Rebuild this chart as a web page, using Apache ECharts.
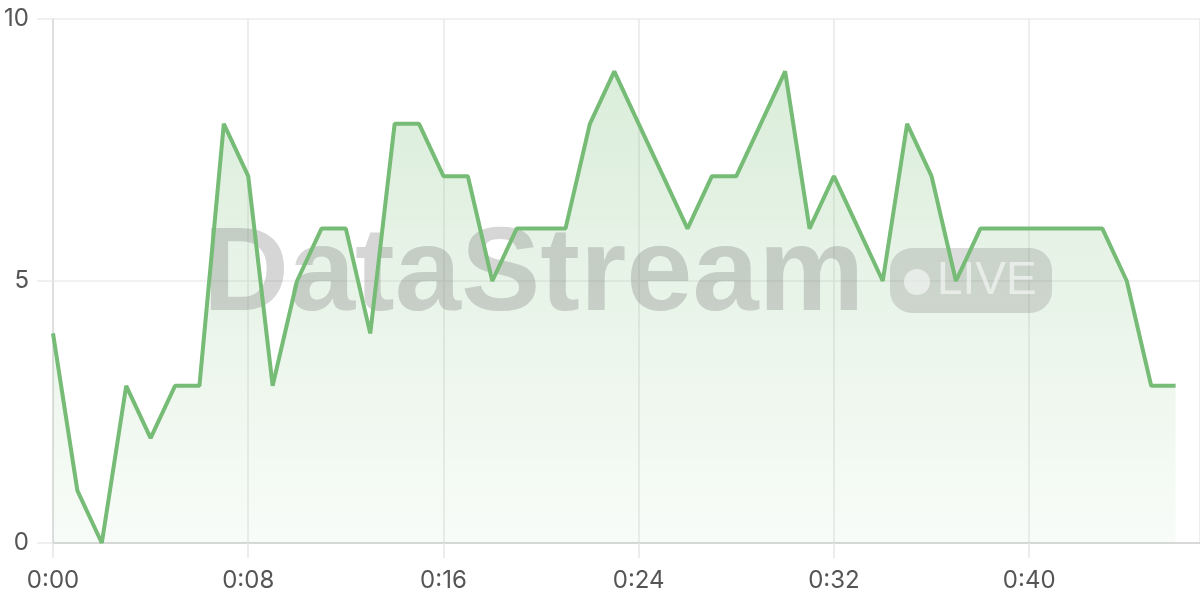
<!DOCTYPE html>
<html>
<head>
<meta charset="utf-8">
<script src="https://cdn.jsdelivr.net/npm/echarts@6/dist/echarts.min.js"></script>
<style>html,body{margin:0;padding:0;background:#fff;}#chart{width:1200px;height:600px;}</style>
</head>
<body>
<div id="chart"></div>
<script>
const seconds = [0,1,2,3,4,5,6,7,8,9,10,11,12,13,14,15,16,17,18,19,20,21,22,23,24,25,26,27,28,29,30,31,32,33,34,35,36,37,38,39,40,41,42,43,44,45,46];
const values = [4,1,0,3,2,3,3,8,7,3,5,6,6,4,8,8,7,7,5,6,6,6,8,9,8,7,6,7,7,8,9,6,7,6,5,8,7,5,6,6,6,6,6,6,5,3,3];
const yTicks = [0,5,10];
const watermarkText = 'DataStream';
const badgeText = 'LIVE';

const points = seconds.map((s, i) => [s, values[i]]);
const fmt = v => '0:' + String(v).padStart(2, '0');
const green = '#76bc76';
const chart = echarts.init(document.getElementById('chart'));
chart.setOption({
  animation: false,
  grid: {left: 53, right: 0, top: 19, bottom: 57, containLabel: false},
  xAxis: {
    type: 'value', min: 0, max: 47, interval: 8,
    axisLine: {show: true, lineStyle: {color: '#d0d0d0', width: 1.5}},
    axisTick: {show: true, length: 15, lineStyle: {color: '#e6e6e6', width: 1.5}},
    splitLine: {show: true, lineStyle: {color: '#e9e9e9', width: 1.5}},
    axisLabel: {showMaxLabel: false, formatter: fmt, margin: 26, fontSize: 24, color: '#555', fontFamily: 'Inter'}
  },
  yAxis: {
    type: 'value', min: yTicks[0], max: yTicks[yTicks.length-1], interval: 5,
    axisLine: {show: true, lineStyle: {color: '#d8d8d8', width: 1.5}},
    axisTick: {show: true, length: 16, lineStyle: {color: '#ececec', width: 1.5}},
    splitLine: {show: true, lineStyle: {color: '#ececec', width: 1.5}},
    axisLabel: {margin: 24, fontSize: 24, color: '#555', fontFamily: 'Inter'}
  },
  graphic: [
    {type: 'text', z: 3, left: 203, top: 218, style: {text: watermarkText, font: 'bold 119px "Liberation Sans"', fill: 'rgba(120,120,120,0.3)'}},
    {type: 'rect', z: 3, shape: {x: 890, y: 248, width: 162, height: 65, r: 22}, style: {fill: 'rgba(120,120,120,0.25)'}},
    {type: 'circle', z: 3, shape: {cx: 917, cy: 282, r: 13}, style: {fill: 'rgba(255,255,255,0.55)'}},
    {type: 'text', z: 3, x: 937, y: 281, style: {text: badgeText, font: '500 46px "Liberation Sans"', fill: 'rgba(255,255,255,0.55)', verticalAlign: 'middle'}}
  ],
  series: [
    {
      type: 'line', data: points, z: 1, symbol: 'none', lineStyle: {width: 0},
      areaStyle: {color: new echarts.graphic.LinearGradient(0, 0, 0, 1, [
        {offset: 0, color: 'rgba(118,188,118,0.38)'},
        {offset: 1, color: 'rgba(118,188,118,0.07)'}
      ]), origin: 'start'}
    },
    {
      type: 'line', data: points, z: 5, symbol: 'none', lineStyle: {width: 4, color: green}
    }
  ]
});
</script>
</body>
</html>
